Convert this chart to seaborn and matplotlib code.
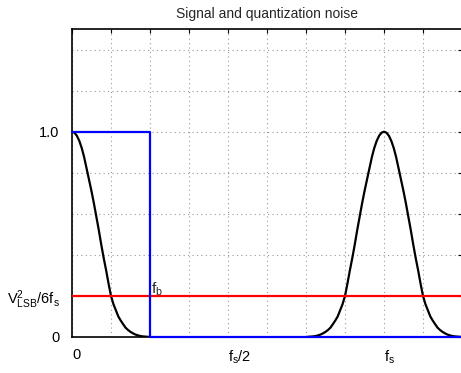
import numpy as np
import pandas as pd
import matplotlib
matplotlib.use("Agg")
import matplotlib.pyplot as plt
import seaborn as sns

# Frequency axis in units of fs/8 (fs = 8, fb = 2)
x_ticks = [0, 1, 2, 3, 4, 5, 6, 7, 8, 9, 10]
x_labels = ["0", "", "", "", r"$\mathregular{f_s/2}$", "", "", "", r"$\mathregular{f_s}$", "", ""]
y_ticks = [0, 0.2, 0.4, 0.6, 0.8, 1.0, 1.2, 1.4]
y_labels = ["0", r"$\mathregular{V^2_{LSB}/6f_s}$", "", "", "", "1.0", "", ""]

# Signal lobe shape (offset from lobe centre -> magnitude)
lobe_offset = [0, 0.0625, 0.125, 0.1875, 0.25, 0.3125, 0.375, 0.4375, 0.5,
               0.5625, 0.625, 0.6875, 0.75, 0.8125, 0.875, 0.9375, 1.0,
               1.0625, 1.125, 1.1875, 1.25, 1.3125, 1.375, 1.4375, 1.5,
               1.5625, 1.625, 1.6875, 1.75, 1.8125, 1.875, 1.9375, 2.0]
lobe_value = [1.00, 0.995, 0.98, 0.955, 0.92, 0.875, 0.82, 0.765, 0.71,
              0.65, 0.585, 0.52, 0.45, 0.385, 0.325, 0.26, 0.20,
              0.16, 0.13, 0.10, 0.08, 0.062, 0.045, 0.034, 0.025,
              0.018, 0.012, 0.008, 0.005, 0.003, 0.002, 0.001, 0.0]
lobe_centres = [0, 8]

# Ideal band-limit filter and quantization noise level
band_x = [0, 2, 2, 10]
band_y = [1, 1, 0, 0]
noise_level = 0.2
fb = 2

sns.set_style("white")
plt.rcParams["font.family"] = ["Liberation Sans", "DejaVu Sans"]
plt.rcParams["mathtext.fontset"] = "custom"
plt.rcParams["mathtext.rm"] = "Liberation Sans"
plt.rcParams["mathtext.it"] = "Liberation Sans"

fig = plt.figure(figsize=(4.61, 3.73), dpi=100)
ax = fig.add_axes([72 / 461, 1 - 337 / 373, 390 / 461, 308 / 373])

# build the two lobes from the shape
rows = []
for i, c in enumerate(lobe_centres):
    if c == 0:
        xs = [c + d for d in lobe_offset]
        ys = list(lobe_value)
    else:
        xs = [c - d for d in lobe_offset[::-1]] + [c + d for d in lobe_offset[1:]]
        ys = lobe_value[::-1] + lobe_value[1:]
    rows.append(pd.DataFrame({"f": xs, "mag": ys, "lobe": i}))
signal = pd.concat(rows, ignore_index=True)

for i, part in signal.groupby("lobe"):
    sns.lineplot(data=part, x="f", y="mag", color="black", lw=1.6,
                 estimator=None, sort=False, ax=ax, zorder=3)

ax.axhline(noise_level, color="#ff0000", lw=1.6, zorder=4)
sns.lineplot(x=band_x, y=band_y, color="#0000ff", lw=1.6, estimator=None,
             sort=False, ax=ax, zorder=5, clip_on=False)

ax.text(fb + 0.03, 0.275, r"$\mathregular{f_b}$", fontsize=11, va="top", ha="left")

ax.set_xlim(0, 10)
ax.set_ylim(0, 1.5)
ax.set_xticks(x_ticks)
ax.set_xticklabels(x_labels, ha="left", fontsize=10.5)
ax.set_yticks(y_ticks)
ax.set_yticklabels(y_labels, fontsize=10.5)
ax.get_yticklabels()[1].set_color("#ff0000")
ax.set_xlabel("")
ax.set_ylabel("")

ax.grid(True, color="#999999", linestyle=(0, (1, 3)), lw=0.8)
ax.set_axisbelow(True)
ax.tick_params(direction="in", length=3, width=0.8, top=True, right=True,
               colors="black")
ax.tick_params(axis="y", pad=9)
ax.tick_params(axis="x", pad=8)
for s in ax.spines.values():
    s.set_color("black")
    s.set_linewidth(1.2)

ax.set_title("Signal and quantization noise", fontsize=10, pad=8)

fig.savefig("out.png", dpi=100)
